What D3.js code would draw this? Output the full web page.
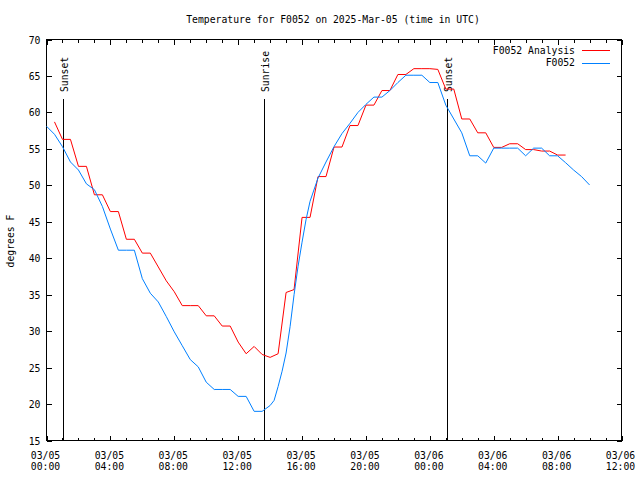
<!DOCTYPE html>
<html><head><meta charset="utf-8">
<script src="https://cdn.jsdelivr.net/npm/d3@7"></script>
<style>
body{margin:0;background:#fff}
text{font-family:"DejaVu Sans Mono","Liberation Mono",monospace;font-size:9.75px;fill:#000}
</style>
</head><body>
<svg id="chart" width="640" height="480"></svg>
<script>
const titleText = "Temperature for F0052 on 2025-Mar-05 (time in UTC)";
const yLabel = "degrees F";
const startTime = Date.UTC(2025, 2, 5, 0);
const endTime = Date.UTC(2025, 2, 6, 12);

// Observed station temperatures (hours after 03/05 00:00 UTC)
const obsHours = [0,0.5,1,1.5,2,2.5,3,3.5,4,4.5,5,5.5,6,6.5,7,7.5,8,8.5,9,9.5,10,10.5,11,11.5,12,12.5,13,13.5,
  14,14.25,14.5,14.75,15,15.25,15.5,15.75,16,16.25,16.5,17,17.5,18,18.5,19,19.5,20,20.5,21,21.5,22,22.5,23,23.5,
  24,24.5,25,25.5,26,26.5,27,27.5,28,28.5,29,29.5,30,30.5,31,31.5,32,32.5,33,33.5,34];
const obsTemp = [58.1,57.0,55.3,53.2,52.1,50.2,49.4,47.1,44.0,41.1,41.1,41.1,37.2,35.2,34.0,32.0,29.9,28.0,26.1,25.1,23.0,22.0,22.0,22.0,21.05,21.05,19.0,19.0,
  19.8,20.5,22.4,24.5,27.0,30.6,35.0,38.9,42.2,45.3,47.8,51.0,53.2,55.3,57.1,58.5,60.0,61.1,62.1,62.1,63.0,64.1,65.1,65.1,65.1,
  64.1,64.1,61.0,59.1,57.2,54.05,54.05,53.05,55.1,55.1,55.1,55.1,54.05,55.1,55.1,54.05,54.05,53.1,52.1,51.2,50.05];

// Analysis temperatures
const anaHours = [0.5,1,1.5,2,2.5,3,3.5,4,4.5,5,5.5,6,6.5,7,7.5,8,8.5,9,9.5,10,10.5,11,11.5,12,12.5,13,13.5,14,14.5,
  15,15.5,16,16.5,17,17.5,18,18.5,19,19.5,20,20.5,21,21.5,22,22.5,23,23.5,24,24.5,25,25.5,26,26.5,27,27.5,28,28.5,
  29,29.5,30,30.5,31,31.5,32,32.5];
const anaTemp = [58.7,56.3,56.3,52.6,52.6,48.7,48.7,46.4,46.4,42.6,42.6,40.7,40.7,38.8,36.9,35.4,33.5,33.5,33.5,32.1,32.1,30.7,30.7,28.5,26.9,27.9,26.8,26.4,26.9,
  35.3,35.7,45.6,45.6,51.2,51.2,55.25,55.25,58.2,58.2,61.0,61.0,63.0,63.0,65.2,65.2,66.0,66.0,66.0,65.9,63.2,63.2,59.1,59.1,57.2,57.2,55.2,55.2,
  55.7,55.7,54.9,54.9,54.7,54.7,54.15,54.15];

const sunHours = [1.02, 13.6, 25.07];
const sunLabels = ["Sunset", "Sunrise", "Sunset"];
const yTicks = [15,20,25,30,35,40,45,50,55,60,65,70];
const seriesNames = ["F0052 Analysis", "F0052"];
const seriesColors = ["#ff0000", "#0080ff"];

const H = 3600 * 1000;
const toDate = h => new Date(startTime + h * H);

const svg = d3.select("#chart");
const x = d3.scaleUtc().domain([new Date(startTime), new Date(endTime)]).range([46.5, 621.5]);
const y = d3.scaleLinear().domain([15, 70]).range([440.5, 39.5]);

const majorTicks = d3.utcHour.every(4).range(new Date(startTime), new Date(endTime + 1));
const minorTicks = d3.utcHour.every(1).range(new Date(startTime), new Date(endTime + 1));

// Title
svg.append("text").attr("x", 333).attr("y", 22.5).attr("text-anchor", "middle").text(titleText);
// Y label
svg.append("text").attr("transform", "translate(13.5,241) rotate(-90)").attr("text-anchor", "middle").text(yLabel);

// Minor ticks (bottom and top)
svg.append("g").attr("transform", "translate(0,440.5)")
  .call(d3.axisBottom(x).tickValues(minorTicks).tickSize(-3).tickFormat(""))
  .call(g => g.select(".domain").remove());
svg.append("g").attr("transform", "translate(0,39.5)")
  .call(d3.axisTop(x).tickValues(minorTicks).tickSize(-3).tickFormat(""))
  .call(g => g.select(".domain").remove());

// Major ticks bottom with two-line labels
const fmtDate = d3.utcFormat("%m/%d"), fmtTime = d3.utcFormat("%H:%M");
const gx = svg.append("g").attr("transform", "translate(0,440.5)")
  .call(d3.axisBottom(x).tickValues(majorTicks).tickSize(-5).tickFormat(""))
  .call(g => g.select(".domain").remove());
gx.selectAll(".tick text").attr("y", null).attr("dy", null).each(function(d) {
  const t = d3.select(this).attr("x", -1.5).attr("font-size", null).attr("font-family", null);
  t.append("tspan").attr("x", -1.5).attr("y", 18).text(fmtDate(d));
  t.append("tspan").attr("x", -1.5).attr("y", 29.5).text(fmtTime(d));
});
svg.append("g").attr("transform", "translate(0,39.5)")
  .call(d3.axisTop(x).tickValues(majorTicks).tickSize(-5).tickFormat(""))
  .call(g => g.select(".domain").remove());

// Y axes
const gy = svg.append("g").attr("transform", "translate(46.5,0)")
  .call(d3.axisLeft(y).tickValues(yTicks).tickSize(-5).tickPadding(6).tickFormat(d3.format("d")))
  .call(g => g.select(".domain").remove());
gy.selectAll(".tick text").attr("font-size", null).attr("font-family", null).attr("dy", "0.36em").attr("x", -6);
svg.append("g").attr("transform", "translate(621.5,0)")
  .call(d3.axisRight(y).tickValues(yTicks).tickSize(-5).tickFormat(""))
  .call(g => g.select(".domain").remove());

svg.selectAll(".tick line").attr("stroke", "#000").attr("shape-rendering", "crispEdges");
svg.selectAll("g").attr("font-size", null).attr("font-family", null);

// Border
svg.append("rect").attr("x", 46.5).attr("y", 39.5).attr("width", 575).attr("height", 401)
  .attr("fill", "none").attr("stroke", "#000").attr("shape-rendering", "crispEdges");

// Sun event lines
sunHours.forEach((h, i) => {
  const xp = Math.round(x(toDate(h))) + 0.5;
  svg.append("line").attr("x1", xp).attr("x2", xp).attr("y1", y(15)).attr("y2", 99)
    .attr("stroke", "#000").attr("shape-rendering", "crispEdges");
  svg.append("text").attr("transform", `translate(${xp + 4},92) rotate(-90)`)
    .attr("text-anchor", "start").text(sunLabels[i]);
});

// Series lines
const line = d3.line().x(d => x(toDate(d[0]))).y(d => y(d[1]));
const anaData = anaHours.map((h, i) => [h, anaTemp[i]]);
const obsData = obsHours.map((h, i) => [h, obsTemp[i]]);
svg.append("path").datum(anaData).attr("d", line).attr("fill", "none").attr("stroke", seriesColors[0]).attr("stroke-width", 1);
svg.append("path").datum(obsData).attr("d", line).attr("fill", "none").attr("stroke", seriesColors[1]).attr("stroke-width", 1);

// Legend
seriesNames.forEach((name, i) => {
  const ly = 50 + i * 12.5;
  svg.append("text").attr("x", 575).attr("y", ly + 3.5).attr("text-anchor", "end").text(name);
  svg.append("line").attr("x1", 582).attr("x2", 610).attr("y1", ly + 0.5).attr("y2", ly + 0.5)
    .attr("stroke", seriesColors[i]).attr("shape-rendering", "crispEdges");
});
</script>
</body></html>
